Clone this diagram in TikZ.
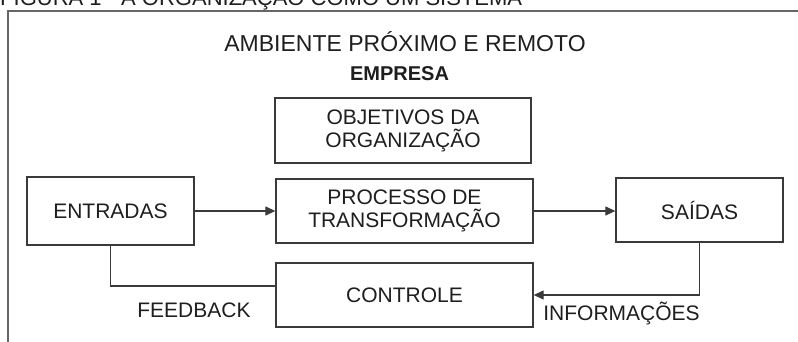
\documentclass[tikz,border=0pt]{standalone}
\usepackage{fontspec}
\setmainfont{Liberation Sans}
\usetikzlibrary{arrows.meta,calc}
\definecolor{ink}{HTML}{1E1E1E}
\definecolor{edge}{HTML}{3A3A3A}
\definecolor{frame}{HTML}{666666}
\tikzset{
  box/.style={draw=edge, line width=1.3pt, align=center, text=ink, inner sep=0pt,
    font=\fontsize{21}{23}\selectfont},
  lbl/.style={text=ink, inner sep=0pt, font=\fontsize{21}{23}\selectfont},
  conn/.style={draw=edge, line width=1.2pt},
  arr/.style={conn, -{Triangle[length=10pt,width=9pt]}}
}
\begin{document}
\begin{tikzpicture}[x=1pt,y=-1pt]
\useasboundingbox (0,0) rectangle (798,341);
\fill[white] (0,0) rectangle (798,341);
\begin{scope}
\clip (0,0) rectangle (798,341);
\node[lbl, font=\fontsize{22}{24}\selectfont, anchor=base west] (cap) at (0,5) {FIGURA 1 - A ORGANIZAÇÃO COMO UM SISTEMA};
\draw[frame, line width=2pt] (8,350) -- (8,11) -- (805,11);
\end{scope}

\node[lbl, font=\fontsize{23}{25}\selectfont] (amb) at (405,42) {AMBIENTE PRÓXIMO E REMOTO};
\node[lbl, font=\fontsize{20}{22}\selectfont\bfseries] (emp) at (399.5,74) {EMPRESA};

\node[box, minimum width=256pt, minimum height=65pt] (obj) at (403,130.5) {OBJETIVOS DA\\ORGANIZAÇÃO};
\node[box, minimum width=167pt, minimum height=68pt] (ent) at (110.5,211) {ENTRADAS};
\node[box, minimum width=257pt, minimum height=64pt] (proc) at (404.5,211) {PROCESSO DE\\TRANSFORMAÇÃO};
\node[box, minimum width=167pt, minimum height=64pt] (sai) at (699.5,210) {SAÍDAS};
\node[box, minimum width=257pt, minimum height=64pt] (ctl) at (404.5,295) {CONTROLE};

\draw[arr] (ent.east) -- (proc.west);
\draw[arr] (proc.east) -- (sai.west |- proc.east);
\draw[conn] (ent.south) |- (ctl.west |- 0,286);
\draw[arr] (sai.south) |- (ctl.east);

\node[lbl] (fb) at (194,310) {FEEDBACK};
\node[lbl] (inf) at (621.5,313) {INFORMAÇÕES};
\end{tikzpicture}
\end{document}
